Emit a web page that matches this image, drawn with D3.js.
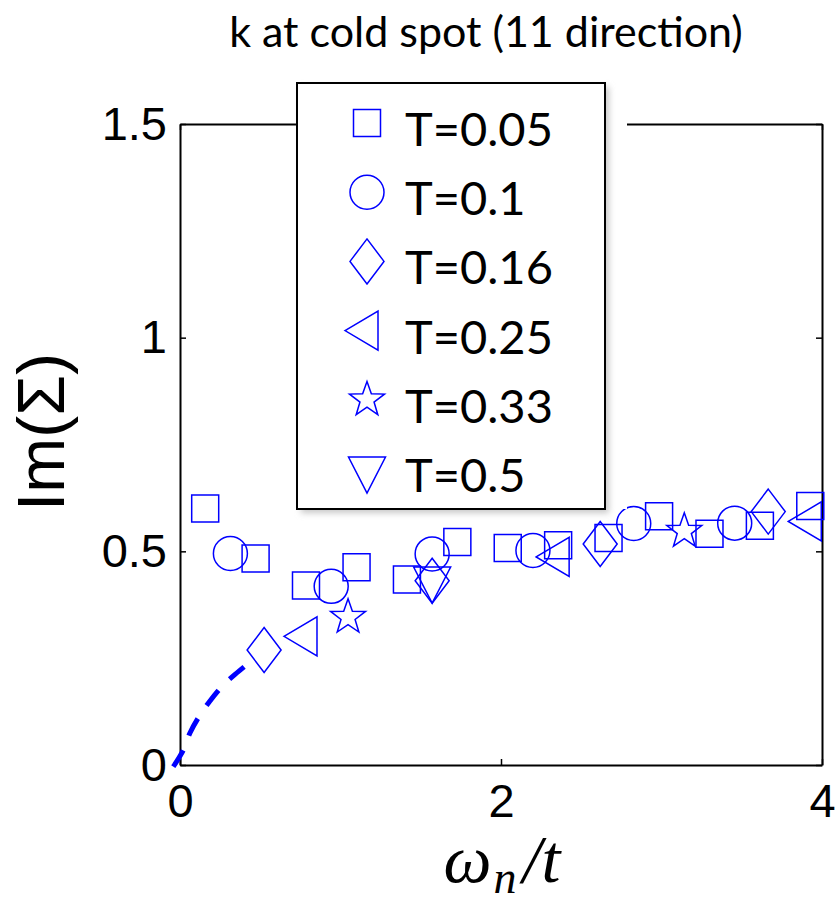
<!DOCTYPE html>
<html>
<head>
<meta charset="utf-8">
<script src="https://cdn.jsdelivr.net/npm/d3@7"></script>
<style>
  body { margin: 0; background: #fff; }
</style>
</head>
<body>
<svg id="chart" width="839" height="905"></svg>
<script>
// ---- data ----
const seriesLabels = ["T=0.05", "T=0.1", "T=0.16", "T=0.25", "T=0.33", "T=0.5"];
const seriesShapes = ["square", "circle", "diamond", "triangleLeft", "star", "triangleDown"];

const omegaT005 = [0.157, 0.471, 0.785, 1.100, 1.414, 1.728, 2.042, 2.356, 2.670, 2.985, 3.299, 3.613, 3.927];
const imT005    = [0.600, 0.483, 0.420, 0.463, 0.434, 0.522, 0.508, 0.514, 0.531, 0.582, 0.541, 0.560, 0.606];
const omegaT01  = [0.314, 0.942, 1.571, 2.199, 2.827, 3.456];
const imT01     = [0.495, 0.418, 0.494, 0.502, 0.565, 0.566];
const omegaT016 = [0.524, 1.571, 2.618, 3.665];
const imT016    = [0.269, 0.431, 0.517, 0.593];
const omegaT025 = [0.785, 2.356, 3.927];
const imT025    = [0.301, 0.487, 0.570];
const omegaT033 = [1.047, 3.142];
const imT033    = [0.346, 0.547];
const omegaT05  = [1.571];
const imT05     = [0.435];

// dashed extrapolation toward zero
const fitOmega = [-0.042, 0.021, 0.062, 0.125, 0.183, 0.270, 0.343, 0.440];
const fitIm    = [-0.004, 0.035, 0.075, 0.117, 0.148, 0.187, 0.212, 0.242];

const xTicks = [0, 2, 4];
const yTicks = [0, 0.5, 1, 1.5];

const seriesX = [omegaT005, omegaT01, omegaT016, omegaT025, omegaT033, omegaT05];
const seriesY = [imT005, imT01, imT016, imT025, imT033, imT05];

// ---- layout ----
const margin = { left: 180, top: 124, right: 17, bottom: 140 };
const width = 839, height = 905;
const blue = "#0000ff";

const svg = d3.select("#chart");

const x = d3.scaleLinear().domain([0, 4]).range([margin.left, width - margin.right]);
const y = d3.scaleLinear().domain([0, 1.5]).range([height - margin.bottom, margin.top]);

function markerPath(shape) {
    if (shape == "square") return "M-13.5,-13.5H13.5V13.5H-13.5Z";
    else if (shape == "circle") return "M17,0A17,17 0 1,1 -17,0A17,17 0 1,1 17,0Z";
    else if (shape == "diamond") return "M0,-22.5L17,0L0,22.5L-17,0Z";
    else if (shape == "triangleLeft") return "M-22,0L11,-19.5L11,19.5Z";
    else if (shape == "triangleDown") return "M-18.5,-12L18.5,-12L0,24Z";
    else {
        const pts = d3.range(10).map(i => {
            const a = (-90 + i * 36) * Math.PI / 180;
            const r = i % 2 == 0 ? 18.4 : 7.4;
            return [r * Math.cos(a), r * Math.sin(a)];
        });
        return d3.line()(pts) + "Z";
    }
}

// ---- title ----
svg.append("text")
    .attr("x", 486)
    .attr("y", 47)
    .attr("text-anchor", "middle")
    .style("font-family", "Lato, 'Open Sans', sans-serif")
    .style("font-size", "43px")
    .text("k at cold spot (11 direction)");

// ---- axes (box with inward ticks) ----
const axisStyle = g => {
    g.select(".domain").attr("stroke", "#000").attr("stroke-width", 2);
    g.selectAll(".tick line").attr("stroke", "#000").attr("stroke-width", 1.5);
    g.selectAll("text")
        .style("font-family", "'Liberation Sans', Arial, sans-serif")
        .style("font-size", "47px")
        .attr("fill", "#000");
};

svg.append("g")
    .attr("transform", `translate(0,${y(0)})`)
    .call(d3.axisBottom(x).tickValues(xTicks).tickFormat(d3.format("d")).tickSize(-6).tickSizeOuter(0).tickPadding(19))
    .call(axisStyle);

svg.append("g")
    .attr("transform", `translate(${x(0)},0)`)
    .call(d3.axisLeft(y).tickValues(yTicks).tickFormat(d => d).tickSize(-6).tickSizeOuter(0).tickPadding(13))
    .call(axisStyle);

svg.append("g")
    .attr("transform", `translate(0,${y(1.5)})`)
    .call(d3.axisTop(x).tickValues(xTicks).tickFormat("").tickSize(-6).tickSizeOuter(0))
    .call(axisStyle);

svg.append("g")
    .attr("transform", `translate(${x(4)},0)`)
    .call(d3.axisRight(y).tickValues(yTicks).tickFormat("").tickSize(-6).tickSizeOuter(0))
    .call(axisStyle);

// ---- axis labels ----
svg.append("text")
    .attr("transform", "translate(64,432) rotate(-90)")
    .attr("text-anchor", "middle")
    .style("font-family", "'Liberation Sans', Arial, sans-serif")
    .style("font-size", "66px")
    .text("Im(Σ)");

const xl = svg.append("text")
    .attr("x", 502)
    .attr("y", 882)
    .attr("text-anchor", "middle")
    .style("font-family", "'Liberation Serif', 'DejaVu Serif', serif")
    .style("font-style", "italic")
    .style("font-size", "68px");
xl.append("tspan").text("ω");
xl.append("tspan").attr("dy", 11).attr("dx", 2).style("font-size", "46px").text("n");
xl.append("tspan").attr("dy", -11).attr("dx", 6).text("/t");

// ---- dashed extrapolation ----
const fitLine = d3.line()
    .x(d => x(d[0]))
    .y(d => y(d[1]))
    .curve(d3.curveCatmullRom);

svg.append("path")
    .datum(d3.zip(fitOmega, fitIm))
    .attr("d", fitLine)
    .attr("fill", "none")
    .attr("stroke", blue)
    .attr("stroke-width", 5)
    .attr("stroke-dasharray", "19,16");

// ---- data markers ----
seriesShapes.forEach((shape, i) => {
    svg.append("g")
        .selectAll("path")
        .data(d3.zip(seriesX[i], seriesY[i]))
        .join("path")
        .attr("transform", d => `translate(${x(d[0])},${y(d[1])})`)
        .attr("d", markerPath(shape))
        .attr("fill", "none")
        .attr("stroke", blue)
        .attr("stroke-width", 1.5);
});

// ---- legend ----
const defs = svg.append("defs");
defs.append("filter").attr("id", "blur")
    .attr("x", "-20%").attr("y", "-20%").attr("width", "140%").attr("height", "140%")
    .append("feGaussianBlur").attr("stdDeviation", 3);

const lg = { x: 297, y: 83, w: 308, h: 426, rowTop: 123, rowStep: 69.2 };
const legend = svg.append("g");

legend.append("rect")
    .attr("x", lg.x).attr("y", lg.y)
    .attr("width", lg.w + 22).attr("height", lg.h)
    .attr("fill", "#fff");

legend.append("rect")
    .attr("x", lg.x + 4).attr("y", lg.y + 4)
    .attr("width", lg.w).attr("height", lg.h)
    .attr("fill", "#c8c8c8")
    .attr("filter", "url(#blur)");

legend.append("rect")
    .attr("x", lg.x).attr("y", lg.y)
    .attr("width", lg.w).attr("height", lg.h)
    .attr("fill", "#fff")
    .attr("stroke", "#000")
    .attr("stroke-width", 2);

const rows = legend.selectAll("g.row")
    .data(seriesLabels)
    .join("g")
    .attr("class", "row")
    .attr("transform", (d, i) => `translate(0,${lg.rowTop + i * lg.rowStep})`);

rows.append("path")
    .attr("transform", "translate(367,0)")
    .attr("d", (d, i) => markerPath(seriesShapes[i]))
    .attr("fill", "none")
    .attr("stroke", blue)
    .attr("stroke-width", 1.5);

rows.append("text")
    .attr("x", 405)
    .attr("y", 23)
    .style("font-family", "Lato, 'Open Sans', sans-serif")
    .style("font-size", "47px")
    .text(d => d);
</script>
</body>
</html>
